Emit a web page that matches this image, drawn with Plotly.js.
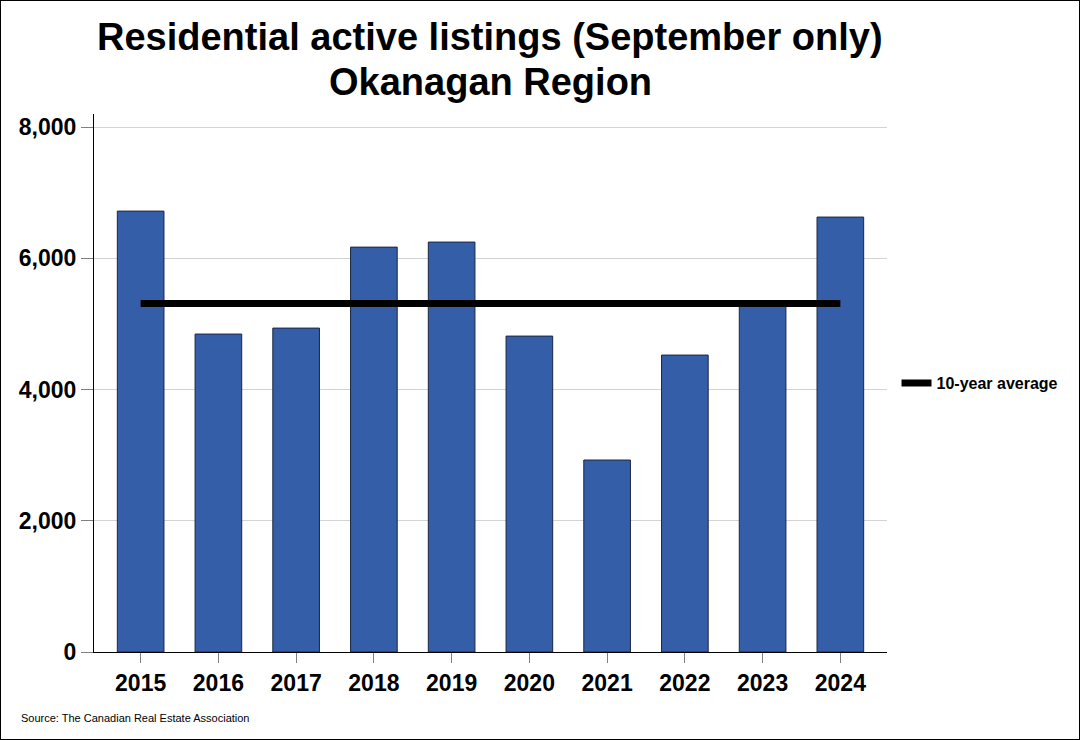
<!DOCTYPE html>
<html>
<head>
<meta charset="utf-8">
<script src="https://cdn.plot.ly/plotly-3.0.1.min.js"></script>
<style>
html,body{margin:0;padding:0;background:#fff;}
#wrap{position:relative;width:1080px;height:740px;}
#chart{width:1080px;height:740px;}
#frame{position:absolute;left:0;top:0;width:1080px;height:740px;box-sizing:border-box;border:1px solid #000;pointer-events:none;}
</style>
</head>
<body>
<div id="wrap"><div id="chart"></div><div id="frame"></div></div>
<script>
const years = ["2015","2016","2017","2018","2019","2020","2021","2022","2023","2024"];
const listings = [6720, 4846, 4937, 6171, 6248, 4815, 2926, 4526, 5285, 6629];
const tenYearAverage = 5310;
const averageValues = years.map(() => tenYearAverage);
const yTicks = [0, 2000, 4000, 6000, 8000];
const yTickLabels = ["0", "2,000", "4,000", "6,000", "8,000"];
const titleLines = ["Residential active listings (September only)", "Okanagan Region"];

const FONT = "Liberation Sans, Arial, sans-serif";
const PLOT_TOP = 114, PLOT_BOTTOM = 652, PLOT_LEFT = 94, PLOT_W = 793;
const pyPaper = px => (PLOT_BOTTOM - px) / (PLOT_BOTTOM - PLOT_TOP);
const pxPaper = px => (px - PLOT_LEFT) / PLOT_W;

const bars = {
  type: "bar",
  x: years,
  y: listings,
  width: 0.6,
  marker: {color: "#345EA8", line: {color: "#1b2742", width: 1}},
  showlegend: false,
  hoverinfo: "x+y"
};
const avg = {
  type: "scatter",
  mode: "lines",
  x: years,
  y: averageValues,
  name: "10-year average",
  line: {color: "#000000", width: 7}
};

const layout = {
  width: 1080,
  height: 740,
  margin: {l: 94, r: 193, t: 114, b: 88},
  paper_bgcolor: "#ffffff",
  plot_bgcolor: "#ffffff",
  font: {family: FONT, color: "#000"},
  xaxis: {
    type: "category",
    range: [-0.6, 9.6],
    showline: true, linecolor: "#000", linewidth: 1,
    ticks: "outside", ticklen: 10, tickcolor: "#808080", tickwidth: 1,
    tickfont: {family: FONT, size: 23, color: "#000", weight: "bold"},
    showgrid: false, zeroline: false, fixedrange: true
  },
  yaxis: {
    range: [0, 8200],
    tickvals: yTicks, ticktext: yTickLabels,
    showline: true, linecolor: "#000", linewidth: 1,
    ticks: "outside", ticklen: 12, tickcolor: "#808080", tickwidth: 1,
    tickfont: {family: FONT, size: 23, color: "#000", weight: "bold"},
    showgrid: true, gridcolor: "#d3d3d3", gridwidth: 1,
    zeroline: false, fixedrange: true
  },
  legend: {
    x: 1.012, xanchor: "left", y: 0.5, yanchor: "middle",
    font: {family: FONT, size: 16, color: "#000", weight: "bold"},
    bgcolor: "rgba(0,0,0,0)"
  },
  bargap: 0.4,
  annotations: [
    {
      text: "<b>" + titleLines[0] + "</b>",
      xref: "paper", yref: "paper", x: pxPaper(490), xanchor: "center",
      y: pyPaper(37), yanchor: "middle", showarrow: false,
      font: {family: FONT, size: 38, color: "#000"}
    },
    {
      text: "<b>" + titleLines[1] + "</b>",
      xref: "paper", yref: "paper", x: pxPaper(490), xanchor: "center",
      y: pyPaper(82), yanchor: "middle", showarrow: false,
      font: {family: FONT, size: 38, color: "#000"}
    },
    {
      text: "Source: The Canadian Real Estate Association",
      xref: "paper", yref: "paper",
      x: pxPaper(19), xanchor: "left",
      y: pyPaper(718), yanchor: "middle",
      showarrow: false,
      font: {family: FONT, size: 11, color: "#000"}
    }
  ]
};

Plotly.newPlot("chart", [bars, avg], layout, {displayModeBar: false, staticPlot: true});
</script>
</body>
</html>
